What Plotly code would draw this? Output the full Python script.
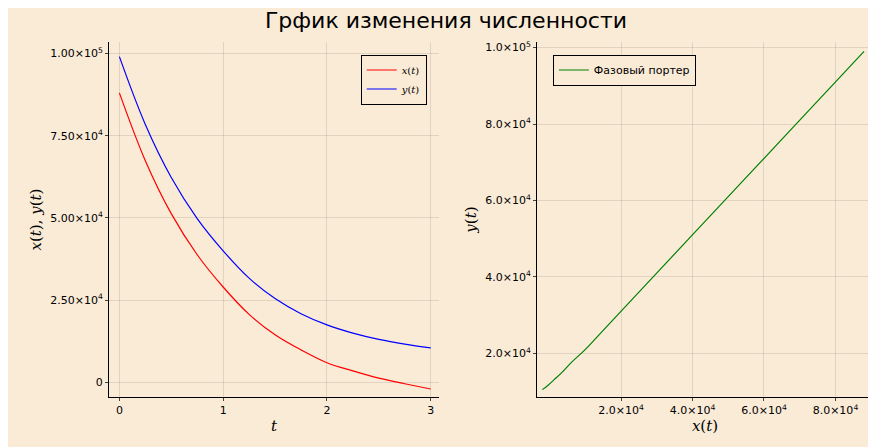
import plotly.graph_objects as go

t = [0, 0.25, 0.5, 0.75, 1, 1.25, 1.5, 1.75, 2, 2.25, 2.5, 2.75, 3]
x_vals = [88000, 67400, 51300, 38800, 29000, 20700, 14500, 9900, 6000, 3500, 1300, -400, -2000]
y_vals = [99000, 78400, 62300, 49800, 40000, 31700, 25500, 20900, 17500, 15000, 13100, 11650, 10500]

left_yt = [0, 25000, 50000, 75000, 100000]
left_yl = ["0", "2.50×10<sup>4</sup>", "5.00×10<sup>4</sup>", "7.50×10<sup>4</sup>", "1.00×10<sup>5</sup>"]
right_t = [20000, 40000, 60000, 80000, 100000]
right_l = ["2.0×10<sup>4</sup>", "4.0×10<sup>4</sup>", "6.0×10<sup>4</sup>", "8.0×10<sup>4</sup>", "1.0×10<sup>5</sup>"]

bg = "#FAEBD7"
fig = go.Figure()
fig.add_trace(go.Scatter(x=t, y=x_vals, mode="lines", line=dict(color="red", width=1.2, shape="spline"), name="<i>x</i>(<i>t</i>)", legend="legend"))
fig.add_trace(go.Scatter(x=t, y=y_vals, mode="lines", line=dict(color="blue", width=1.2, shape="spline"), name="<i>y</i>(<i>t</i>)", legend="legend"))
fig.add_trace(go.Scatter(x=x_vals, y=y_vals, mode="lines", line=dict(color="green", width=1.2, shape="spline"), name="Фазовый портер", xaxis="x2", yaxis="y2", legend="legend2"))

ax = dict(showline=True, linecolor="black", gridcolor="rgba(0,0,0,0.1)", zeroline=False, ticks="outside", ticklen=3, tickfont=dict(size=11, color="black"))
fig.update_layout(
    width=876, height=447, paper_bgcolor=bg, plot_bgcolor=bg,
    margin=dict(l=0, r=0, t=0, b=0),
    font=dict(family="DejaVu Sans", color="black"),
    title=dict(text="Грфик изменения численности", x=0.5, xanchor="center", y=0.99, yanchor="top", font=dict(size=22)),
    xaxis=dict(ax, domain=[101/876, 431/876], range=[-0.1, 3.08], tickvals=[0, 1, 2, 3],
               title=dict(text="<i>t</i>", font=dict(family="DejaVu Serif", size=15), standoff=4)),
    yaxis=dict(ax, domain=[58/447, 415/447], range=[-4500, 103500], tickvals=left_yt, ticktext=left_yl,
               title=dict(text="<i>x</i>(<i>t</i>), <i>y</i>(<i>t</i>)", font=dict(family="DejaVu Serif", size=15), standoff=4)),
    xaxis2=dict(ax, domain=[529/876, 865/876], range=[-3500, 90500], tickvals=right_t[:4], ticktext=right_l[:4], anchor="y2",
                title=dict(text="<i>x</i>(<i>t</i>)", font=dict(family="DejaVu Serif", size=15), standoff=2)),
    yaxis2=dict(ax, domain=[58/447, 415/447], range=[8500, 101500], tickvals=right_t, ticktext=right_l, anchor="x2",
                title=dict(text="<i>y</i>(<i>t</i>)", font=dict(family="DejaVu Serif", size=15), standoff=4)),
    legend=dict(x=0.478, xanchor="right", y=0.9, yanchor="top", bgcolor=bg, bordercolor="black", borderwidth=1, font=dict(size=10, family="DejaVu Serif")),
    legend2=dict(x=0.622, xanchor="left", y=0.9, yanchor="top", bgcolor=bg, bordercolor="black", borderwidth=1, font=dict(size=11)),
)
fig.write_html("out.html")
